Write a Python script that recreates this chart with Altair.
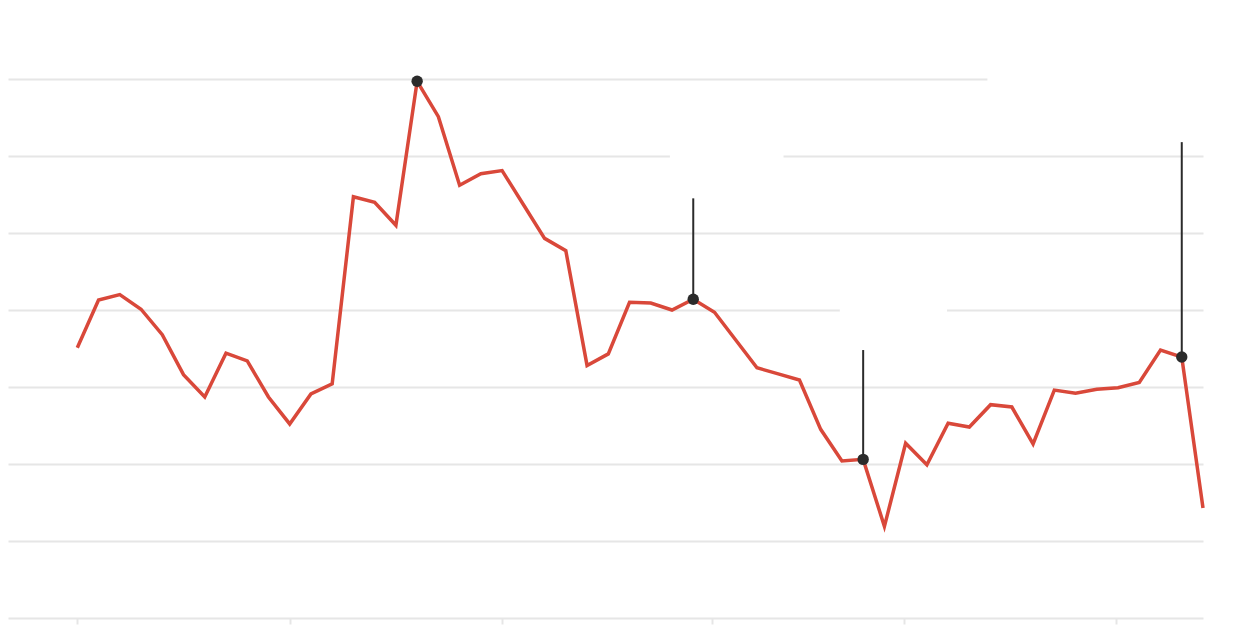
import altair as alt
import pandas as pd

# series values (one per period)
values = [35.1, 41.3, 42.0, 40.1, 36.8, 31.6, 28.7, 34.4, 33.4, 28.7,
          25.2, 29.1, 30.4, 54.7, 54.0, 51.0, 69.7, 65.1, 56.2, 57.7,
          58.1, 53.7, 49.3, 47.7, 32.8, 34.3, 41.0, 40.9, 40.0, 41.4,
          39.7, 36.1, 32.5, 31.7, 30.9, 24.5, 20.4, 20.6, 11.9, 22.7,
          19.9, 25.3, 24.8, 27.7, 27.4, 22.6, 29.6, 29.2, 29.7, 29.9,
          30.6, 34.8, 33.9, 14.3]
periods = list(range(len(values)))

# highlighted points and their annotation stems
marker_idx = [16, 29, 37, 52]
stem_idx = [29, 37, 52]
stem_top = [54.5, 34.8, 61.8]

# annotation label boxes (white backgrounds)
box_x0 = [27.9, 35.9, 42.85]
box_x1 = [33.25, 40.95, 54.0]
box_y0 = [55.5, 35.5, 62.5]
box_y1 = [64.0, 44.0, 76.0]

# axis ticks
x_ticks = [0, 10, 20, 29.9, 38.9, 48.9]
y_ticks = [0, 10, 20, 30, 40, 50, 60, 70, 80]

df = pd.DataFrame({"t": periods, "v": values})
mk = pd.DataFrame({"t": marker_idx, "v": [values[i] for i in marker_idx]})
st = pd.DataFrame({"t": stem_idx, "v": [values[i] for i in stem_idx], "top": stem_top})
bx = pd.DataFrame({"t": box_x0, "x1": box_x1, "v": box_y0, "y1": box_y1})

xs = alt.Scale(domain=[-3.263, 53.0], nice=False, zero=False)
ys = alt.Scale(domain=[0, 79.22], nice=False, zero=False)

GRID = "#e6e6e6"
INK = "#2b2b2b"

x_axis = alt.Axis(values=x_ticks, labels=False, domain=False, grid=False, title=None,
                  ticks=True, tickColor=GRID, tickWidth=2, tickSize=6)
y_axis = alt.Axis(values=y_ticks, labels=False, domain=False, ticks=False, title=None,
                  grid=True, gridColor=GRID, gridWidth=2)

X = alt.X("t:Q", scale=xs, axis=x_axis, title=None)
Y = alt.Y("v:Q", scale=ys, axis=y_axis, title=None)

boxes = alt.Chart(bx).mark_rect(color="white").encode(x=X, x2="x1", y=Y, y2="y1")

line = alt.Chart(df).mark_line(color="#d9483a", strokeWidth=3.5).encode(x=X, y=Y)

stems = alt.Chart(st).mark_rule(color=INK, strokeWidth=2).encode(x=X, y=Y, y2="top")

points = alt.Chart(mk).mark_point(filled=True, color=INK, size=130, opacity=1).encode(x=X, y=Y)

chart = alt.layer(boxes, line, stems, points).properties(
    width=1195, height=610, padding=0
).configure_view(strokeWidth=0)

chart.save("out.html", embed_options={"renderer": "svg", "actions": False})
